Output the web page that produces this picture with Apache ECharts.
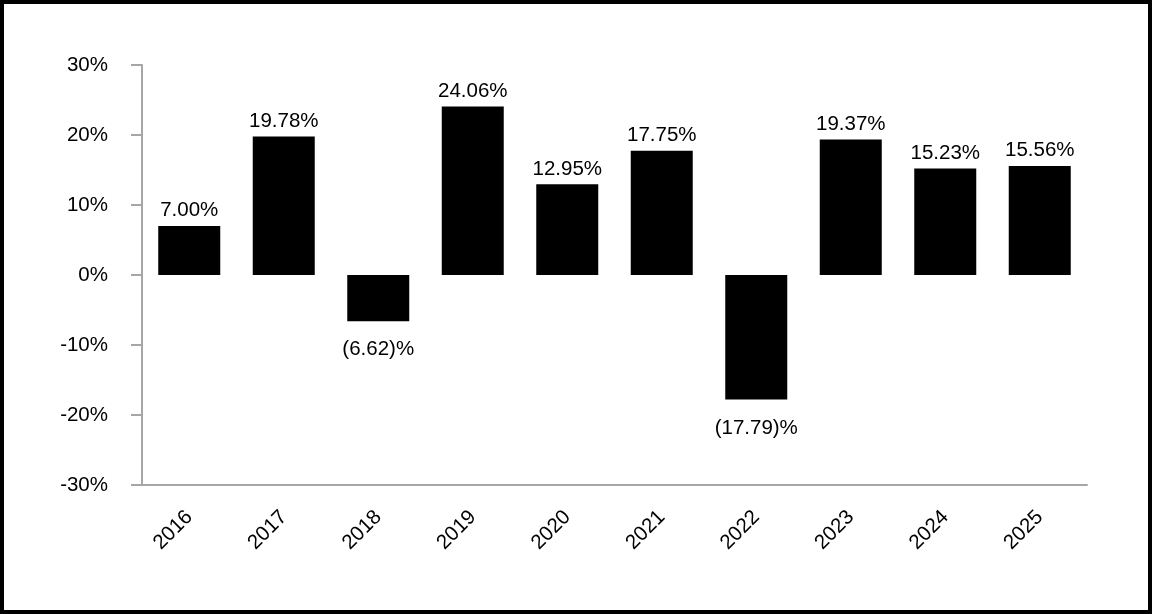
<!DOCTYPE html>
<html>
<head>
<meta charset="utf-8">
<script src="https://cdn.jsdelivr.net/npm/echarts@6/dist/echarts.min.js"></script>
<style>
html,body{margin:0;padding:0;background:#fff;}
#chart{width:1152px;height:614px;}
</style>
</head>
<body>
<div id="chart"></div>
<script>
const categories = ['2016','2017','2018','2019','2020','2021','2022','2023','2024','2025'];
const returns = [7.00, 19.78, -6.62, 24.06, 12.95, 17.75, -17.79, 19.37, 15.23, 15.56];
const yMin = -30, yMax = 30, yStep = 10;

const chart = echarts.init(document.getElementById('chart'), null, {renderer:'canvas'});
const font = '"Liberation Sans", Arial, sans-serif';
const axisColor = '#a6a6a6';
const fs = 20.5;

chart.setOption({
  animation: false,
  backgroundColor: '#fff',
  textStyle: { fontFamily: font },
  graphic: [{
    type: 'rect',
    shape: { x: 2, y: 2, width: 1148, height: 610 },
    style: { fill: 'none', stroke: '#000', lineWidth: 4 },
    z: 100
  }],
  grid: { left: 142, right: 65, top: 65, bottom: 129, containLabel: false, outerBoundsMode: 'none' },
  xAxis: {
    type: 'category',
    data: categories,
    axisLine: { onZero: false, lineStyle: { color: axisColor, width: 2 } },
    axisTick: { alignWithLabel: true, length: 11, lineStyle: { color: axisColor, width: 2 } },
    axisLabel: { rotate: 45, margin: 29, color: '#000', fontSize: fs, fontFamily: font }
  },
  yAxis: {
    type: 'value',
    min: yMin, max: yMax, interval: yStep,
    splitLine: { show: false },
    axisLine: { show: true, lineStyle: { color: axisColor, width: 2 } },
    axisTick: { show: true, length: 11, lineStyle: { color: axisColor, width: 2 } },
    axisLabel: { formatter: '{value}%', margin: 34, color: '#000', fontSize: fs, fontFamily: font }
  },
  series: [{
    type: 'bar',
    data: returns.map(v => v < 0 ? { value: v, label: { position: 'bottom', distance: 18 } } : v),
    barWidth: 62,
    itemStyle: { color: '#000' },
    label: {
      show: true,
      position: 'top',
      distance: 5,
      color: '#000',
      fontSize: fs,
      fontFamily: font,
      formatter: p => p.value < 0 ? '(' + Math.abs(p.value).toFixed(2) + ')%' : p.value.toFixed(2) + '%'
    }
  }]
});
</script>
</body>
</html>
